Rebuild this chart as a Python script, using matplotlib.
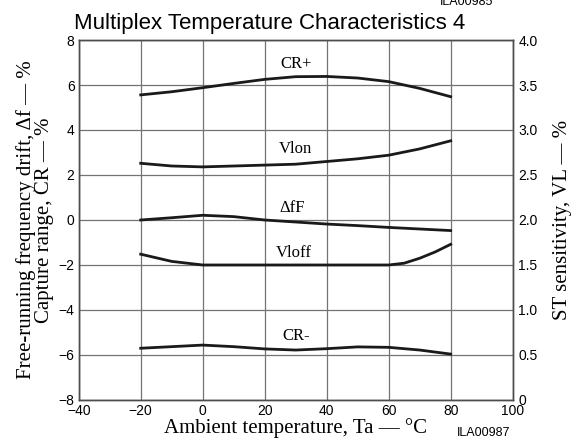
import matplotlib
matplotlib.use("Agg")
import matplotlib.pyplot as plt

# ── data ──────────────────────────────────────────────────────────
temps = [-20, -10, 0, 10, 20, 30, 40, 50, 60, 70, 80]
cr_plus = [5.56, 5.70, 5.88, 6.07, 6.25, 6.37, 6.38, 6.31, 6.15, 5.85, 5.48]
delta_ff = [0.0, 0.10, 0.21, 0.15, 0.0, -0.09, -0.18, -0.25, -0.33, -0.40, -0.47]
cr_minus = [-5.70, -5.63, -5.56, -5.63, -5.73, -5.78, -5.72, -5.64, -5.66, -5.78, -5.96]

# ST sensitivity (right axis)
vl_on = [2.63, 2.60, 2.59, 2.60, 2.61, 2.62, 2.65, 2.68, 2.72, 2.79, 2.88]
vloff_temps = [-20, -10, 0, 10, 20, 30, 40, 50, 60, 65, 70, 75, 80]
vl_off = [1.62, 1.54, 1.50, 1.50, 1.50, 1.50, 1.50, 1.50, 1.50, 1.52, 1.575, 1.645, 1.73]

x_ticks = [-40, -20, 0, 20, 40, 60, 80, 100]
left_ticks = [-8, -6, -4, -2, 0, 2, 4, 6, 8]
right_ticks = [0, 0.5, 1.0, 1.5, 2.0, 2.5, 3.0, 3.5, 4.0]
right_labels = ["0", "0.5", "1.0", "1.5", "2.0", "2.5", "3.0", "3.5", "4.0"]

SERIF = "Liberation Serif"
SANS = "Liberation Sans"

fig = plt.figure(figsize=(5.72, 4.43), dpi=100)
ax = fig.add_axes([0.1376, 0.0971, 0.7587, 0.8126])
ax2 = ax.twinx()

ax.set_xlim(-40, 100)
ax.set_ylim(-8, 8)
ax2.set_ylim(0, 4)

ax.set_xticks(x_ticks)
ax.set_xticklabels([f"{t}".replace("-", "\u2212") for t in x_ticks], family=SANS, fontsize=10)
ax.set_yticks(left_ticks)
ax.set_yticklabels([f"{t}".replace("-", "\u2212") for t in left_ticks], family=SANS, fontsize=10)
ax2.set_yticks(right_ticks)
ax2.set_yticklabels(right_labels, family=SANS, fontsize=10)

ax.tick_params(axis="x", length=0, pad=3)
ax.tick_params(axis="y", length=0, pad=3)
ax2.tick_params(length=0, pad=4)

ax.grid(True, color="0.45", linewidth=0.9)
ax.set_axisbelow(True)
for sp in list(ax.spines.values()) + list(ax2.spines.values()):
    sp.set_color("0.3")
    sp.set_linewidth(1.0)

lw = 2.0
ax.plot(temps, cr_plus, color="#1a1a1a", lw=lw)
ax.plot(temps, delta_ff, color="#1a1a1a", lw=lw)
ax.plot(temps, cr_minus, color="#1a1a1a", lw=lw)
ax2.plot(temps, vl_on, color="#1a1a1a", lw=lw)
ax2.plot(vloff_temps, vl_off, color="#1a1a1a", lw=lw)

# curve labels
ax.text(30, 6.93, "CR+", family=SERIF, fontsize=12, ha="center", va="center")
ax.text(30, 3.16, "Vlon", family=SERIF, fontsize=12, ha="center", va="center")
ax.text(29, 0.52, "\u0394fF", family=SERIF, fontsize=12, ha="center", va="center")
ax.text(29.5, -1.45, "Vloff", family=SERIF, fontsize=12, ha="center", va="center")
ax.text(30, -5.16, "CR-", family=SERIF, fontsize=12, ha="center", va="center")

ax.set_xlabel("Ambient temperature, Ta \u2014 \u00b0C", family=SERIF, fontsize=15, labelpad=0)
ax.set_ylabel("Free-running frequency drift, \u0394f \u2014 %\nCapture range, CR \u2014 %",
              family=SERIF, fontsize=15, labelpad=3, linespacing=0.95)
ax2.set_ylabel("ST sensitivity, VL \u2014 %", family=SERIF, fontsize=15, labelpad=11)

fig.text(270 / 572, 1 - 24 / 443, "Multiplex Temperature Characteristics 4",
         family=SANS, fontsize=16, ha="center", va="center")
fig.text(484 / 572, 1 - 433 / 443, "ILA00987", family=SANS, fontsize=9,
         ha="center", va="center")
fig.text(467 / 572, 1 - 5 / 443, "ILA00985", family=SANS, fontsize=9,
         ha="center", va="baseline")

fig.savefig("out.png", dpi=100)
